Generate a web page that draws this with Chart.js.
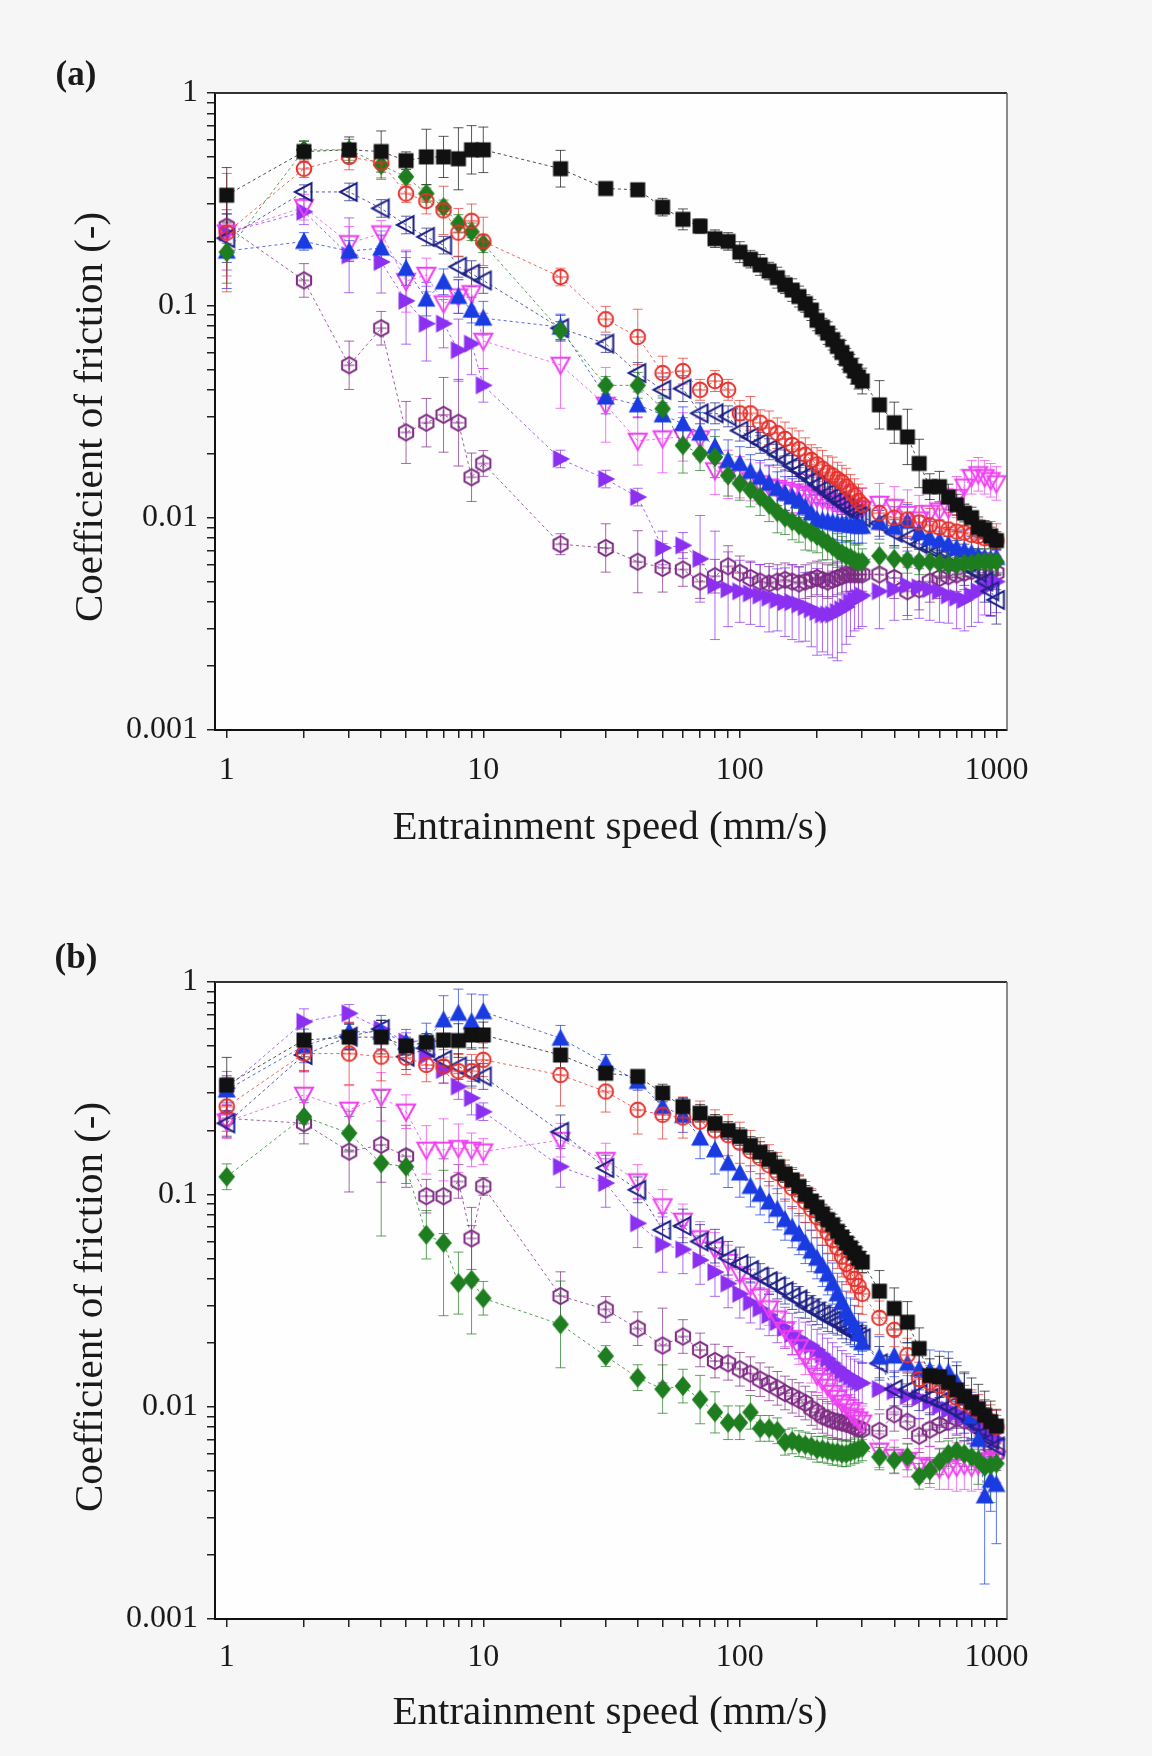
<!DOCTYPE html>
<html><head><meta charset="utf-8">
<script src="https://cdn.jsdelivr.net/npm/chart.js@4.4.1/dist/chart.umd.min.js"></script>
<style>
html,body{margin:0;padding:0;background:#f6f6f6;}
#wrap{position:relative;width:1152px;height:1756px;overflow:hidden;}
.pan{position:absolute;left:0;width:1152px;height:878px;}
</style></head><body>
<div id="wrap">
<div class="pan" style="top:0"><canvas id="ca" width="1152" height="878"></canvas></div>
<div class="pan" style="top:878px"><canvas id="cb" width="1152" height="878"></canvas></div>
</div>
<script>
// ---------- DATA ----------
const speeds = [1,2,3,4,5,6,7,8,9,10,
20,30,40,50,60,70,80,90,100,
110,120,130,140,150,160,170,180,190,200,210,220,230,240,250,260,270,280,290,300,
350,400,450,500,550,600,650,700,750,800,850,900,950,1000];

const xTickVals = [1,2,3,4,5,6,7,8,9,10,20,30,40,50,60,70,80,90,100,200,300,400,500,600,700,800,900,1000];
const xTickLabels = ['1','10','100','1000'];
const yTickVals = [0.001,0.002,0.003,0.004,0.005,0.006,0.007,0.008,0.009,0.01,0.02,0.03,0.04,0.05,0.06,0.07,0.08,0.09,0.1,0.2,0.3,0.4,0.5,0.6,0.7,0.8,0.9,1];
const yTickLabels = ['0.001','0.01','0.1','1'];

// panel (a)
const a_black = [0.33,0.53,0.54,0.53,0.48,0.50,0.50,0.49,0.54,0.54,
0.44,0.355,0.35,0.29,0.254,0.236,0.206,0.2,0.178,
0.165,0.155,0.145,0.135,0.125,0.118,0.11,0.102,0.095,0.085,0.079,0.074,0.069,0.064,0.06,0.056,0.052,0.049,0.046,0.044,
0.034,0.028,0.024,0.018,0.014,0.014,0.0125,0.0115,0.0105,0.01,0.009,0.0088,0.0082,0.0078];
const a_red = [0.22,0.44,0.5,0.47,0.336,0.31,0.28,0.22,0.25,0.2,
0.136,0.086,0.071,0.048,0.049,0.040,0.044,0.040,0.031,
0.031,0.028,0.0265,0.025,0.0235,0.022,0.021,0.0198,0.0187,0.0178,0.017,0.0163,0.0158,0.0152,0.0147,0.014,0.0133,0.0127,0.012,0.0115,
0.0105,0.01,0.0098,0.0095,0.0092,0.009,0.0088,0.0086,0.0085,0.0083,0.0082,0.008,0.008,0.0078];
const a_green = [0.178,0.54,0.54,0.458,0.403,0.336,0.29,0.243,0.222,0.195,
0.076,0.042,0.042,0.0326,0.0219,0.02,0.0193,0.0158,0.0145,
0.0135,0.0125,0.0115,0.0106,0.01,0.0096,0.0092,0.0088,0.0085,0.0082,0.0079,0.0076,0.0073,0.007,0.0068,0.0066,0.0065,0.0063,0.0062,0.0062,
0.0066,0.0064,0.0063,0.0062,0.0062,0.0061,0.006,0.006,0.0061,0.0061,0.0062,0.0062,0.0062,0.0062];
const a_blue = [0.18,0.2,0.18,0.186,0.149,0.107,0.129,0.11,0.095,0.087,
0.079,0.037,0.034,0.0305,0.0277,0.025,0.0216,0.0186,0.018,
0.0165,0.0155,0.0145,0.0137,0.013,0.0125,0.012,0.0112,0.0105,0.0098,0.0097,0.0096,0.0095,0.0094,0.0093,0.0093,0.0092,0.0092,0.0091,0.0091,
0.0095,0.009,0.0096,0.0085,0.008,0.0078,0.0075,0.0072,0.007,0.0068,0.0066,0.0065,0.0064,0.0065];
const a_navy = [0.207,0.342,0.342,0.286,0.239,0.21,0.192,0.152,0.141,0.131,
0.078,0.066,0.048,0.04,0.0405,0.031,0.031,0.03,0.0257,
0.024,0.0225,0.021,0.0198,0.0186,0.0175,0.0166,0.0157,0.015,0.0143,0.0136,0.013,0.0125,0.012,0.0116,0.0112,0.0108,0.0105,0.0102,0.01,
0.0094,0.0085,0.008,0.0075,0.0072,0.007,0.0068,0.0065,0.006,0.0057,0.0055,0.005,0.0045,0.0041];
const a_magenta = [0.22,0.29,0.196,0.218,0.13,0.139,0.102,0.11,0.114,0.068,
0.0524,0.034,0.023,0.0236,0.024,0.0236,0.0167,0.016,0.0155,
0.015,0.0145,0.014,0.0138,0.0135,0.0132,0.013,0.0128,0.0126,0.0124,0.0122,0.012,0.0118,0.0116,0.0115,0.0113,0.0112,0.0111,0.011,0.011,
0.0116,0.0112,0.0104,0.0098,0.0105,0.0108,0.011,0.0125,0.014,0.0155,0.016,0.0155,0.015,0.0145];
const a_violet = [0.22,0.276,0.172,0.16,0.105,0.082,0.082,0.0615,0.066,0.042,
0.0189,0.0152,0.0125,0.0072,0.0074,0.0064,0.0048,0.0046,0.0045,
0.0044,0.0043,0.0042,0.0041,0.004,0.004,0.0039,0.0038,0.0037,0.0036,0.0035,0.0035,0.0035,0.0036,0.0037,0.0038,0.004,0.0041,0.0042,0.0043,
0.0045,0.0046,0.0048,0.0047,0.0046,0.0045,0.0043,0.0042,0.0041,0.0043,0.0045,0.0047,0.0048,0.005];
const a_purple = [0.235,0.131,0.0522,0.078,0.0252,0.028,0.0305,0.028,0.0155,0.018,
0.0075,0.0072,0.0062,0.0058,0.0057,0.005,0.0053,0.0059,0.0055,
0.0052,0.005,0.0049,0.005,0.0051,0.005,0.0049,0.005,0.0051,0.0052,0.0051,0.005,0.0051,0.0052,0.0053,0.0054,0.0054,0.0054,0.0054,0.0054,
0.0054,0.0052,0.0045,0.0046,0.005,0.0052,0.0053,0.0054,0.0055,0.0056,0.0057,0.0057,0.0056,0.0055];

// panel (a) error bars (multiplicative half-width)
const aErr_black = [1.35,1.12,1.15,1.25,1.1,1.35,1.25,1.4,1.3,1.28,
1.22,1.05,1.06,1.1,1.12,1.08,1.1,1.1,1.12,
1.1,1.12,1.1,1.12,1.1,1.13,1.12,1.1,1.12,1.12,1.1,1.13,1.12,1.12,1.14,1.12,1.13,1.15,1.14,1.15,
1.3,1.25,1.35,1.3,1.15,1.18,1.15,1.12,1.1,1.12,1.12,1.1,1.1,1.1];
const aErr_red = [1.9,1.1,1.15,1.2,1.1,1.15,1.3,1.3,1.2,1.3,
1.1,1.15,1.35,1.2,1.15,1.12,1.12,1.12,1.15,
1.2,1.15,1.2,1.18,1.2,1.2,1.22,1.2,1.18,1.2,1.22,1.2,1.22,1.2,1.2,1.22,1.2,1.2,1.2,1.2,
1.2,1.22,1.2,1.2,1.2,1.22,1.2,1.2,1.2,1.22,1.2,1.2,1.2,1.2];
const aErr_green = [1.4,1.1,1.12,1.15,1.12,1.1,1.08,1.1,1.1,1.1,
1.1,1.1,1.15,1.15,1.35,1.2,1.25,1.25,1.2,
1.2,1.22,1.2,1.25,1.2,1.22,1.2,1.25,1.22,1.2,1.25,1.2,1.22,1.2,1.2,1.18,1.2,1.18,1.2,1.15,
1.15,1.15,1.15,1.15,1.15,1.15,1.15,1.15,1.15,1.15,1.15,1.15,1.15,1.15];
const aErr_blue = [1.5,1.1,1.12,1.15,1.2,1.2,1.15,1.2,1.15,1.2,
1.15,1.2,1.15,1.2,1.2,1.25,1.2,1.25,1.2,
1.2,1.2,1.22,1.2,1.2,1.22,1.2,1.2,1.22,1.2,1.2,1.22,1.2,1.2,1.22,1.2,1.2,1.22,1.2,1.2,
1.2,1.25,1.2,1.2,1.2,1.25,1.2,1.2,1.25,1.2,1.2,1.25,1.2,1.2];
const aErr_navy = [1.3,1.08,1.1,1.1,1.1,1.1,1.1,1.12,1.15,1.15,
1.15,1.1,1.12,1.15,1.15,1.12,1.12,1.12,1.12,
1.12,1.12,1.12,1.12,1.12,1.12,1.12,1.12,1.12,1.12,1.12,1.12,1.12,1.12,1.12,1.12,1.12,1.12,1.12,1.12,
1.15,1.15,1.2,1.2,1.2,1.2,1.2,1.2,1.25,1.25,1.25,1.25,1.3,1.3];
const aErr_magenta = [1.6,1.15,1.2,1.15,1.4,1.2,1.2,1.2,1.3,1.35,
1.6,1.5,1.3,1.45,1.3,1.25,1.3,1.3,1.25,
1.25,1.25,1.25,1.25,1.25,1.25,1.25,1.25,1.25,1.25,1.25,1.25,1.25,1.25,1.25,1.25,1.25,1.25,1.25,1.25,
1.25,1.25,1.3,1.3,1.25,1.25,1.25,1.25,1.2,1.2,1.2,1.2,1.2,1.2];
const aErr_violet = [1.5,1.15,1.5,1.4,1.6,1.5,1.3,1.4,1.4,1.2,
1.1,1.1,1.1,1.2,1.15,1.6,1.8,1.5,1.4,
1.4,1.4,1.45,1.4,1.45,1.5,1.5,1.45,1.5,1.6,1.5,1.55,1.6,1.7,1.6,1.5,1.45,1.4,1.4,1.4,
1.5,1.4,1.45,1.4,1.4,1.4,1.35,1.4,1.4,1.4,1.4,1.35,1.4,1.4];
const aErr_purple = [1.2,1.2,1.3,1.2,1.4,1.3,1.5,1.6,1.3,1.15,
1.12,1.3,1.4,1.3,1.2,1.2,1.2,1.25,1.2,
1.2,1.2,1.2,1.2,1.2,1.2,1.2,1.2,1.2,1.2,1.2,1.2,1.2,1.2,1.2,1.2,1.2,1.2,1.2,1.2,
1.2,1.25,1.3,1.25,1.25,1.25,1.2,1.2,1.2,1.25,1.25,1.2,1.2,1.2];

// panel (b)
const b_black = [0.327,0.533,0.55,0.55,0.5,0.52,0.533,0.53,0.563,0.563,
0.453,0.372,0.359,0.3,0.259,0.241,0.216,0.2,0.187,
0.17,0.158,0.146,0.135,0.125,0.117,0.109,0.1,0.093,0.087,0.081,0.076,0.072,0.067,0.063,0.059,0.056,0.053,0.05,0.048,
0.035,0.029,0.025,0.0188,0.014,0.0138,0.013,0.012,0.0112,0.0105,0.0098,0.0091,0.0085,0.0081];
const b_red = [0.259,0.46,0.46,0.445,0.44,0.407,0.4,0.38,0.38,0.43,
0.365,0.305,0.25,0.237,0.23,0.22,0.2,0.19,0.175,
0.16,0.148,0.137,0.126,0.116,0.107,0.099,0.092,0.085,0.078,0.072,0.066,0.061,0.056,0.051,0.047,0.043,0.04,0.037,0.034,
0.0262,0.023,0.0175,0.0135,0.013,0.0125,0.012,0.011,0.0105,0.01,0.0095,0.009,0.0085,0.008];
const b_green = [0.121,0.232,0.194,0.14,0.135,0.0645,0.059,0.0382,0.0396,0.0324,
0.0244,0.0173,0.0137,0.0121,0.0125,0.0108,0.0094,0.0084,0.0084,
0.0094,0.0079,0.0079,0.0077,0.0068,0.0069,0.0067,0.0066,0.0065,0.0063,0.0063,0.0062,0.0061,0.0061,0.006,0.006,0.0061,0.0062,0.0063,0.0064,
0.0058,0.0056,0.0058,0.0047,0.005,0.0055,0.006,0.0062,0.006,0.0058,0.0056,0.0052,0.0053,0.0054];
const b_blue = [0.31,0.5,0.584,0.58,0.52,0.533,0.663,0.712,0.65,0.725,
0.543,0.414,0.34,0.259,0.235,0.184,0.162,0.14,0.126,
0.109,0.1,0.092,0.085,0.076,0.07,0.065,0.059,0.054,0.05,0.046,0.042,0.038,0.034,0.031,0.028,0.026,0.024,0.022,0.02,
0.0171,0.0173,0.016,0.015,0.0148,0.0146,0.0145,0.013,0.011,0.009,0.007,0.0038,0.0045,0.0043];
const b_navy = [0.216,0.453,0.553,0.6,0.445,0.488,0.43,0.4,0.372,0.359,
0.197,0.133,0.105,0.068,0.071,0.06,0.057,0.05,0.047,
0.044,0.041,0.039,0.037,0.035,0.033,0.032,0.03,0.029,0.028,0.027,0.026,0.0255,0.025,0.024,0.023,0.0225,0.022,0.0215,0.021,
0.016,0.0121,0.012,0.0115,0.011,0.0105,0.01,0.0095,0.009,0.0085,0.008,0.0075,0.007,0.0065];
const b_magenta = [0.22,0.294,0.25,0.288,0.245,0.162,0.162,0.165,0.162,0.159,
0.18,0.145,0.115,0.0877,0.075,0.062,0.055,0.048,0.042,
0.037,0.033,0.029,0.026,0.023,0.021,0.019,0.017,0.0155,0.014,0.0132,0.0124,0.0116,0.011,0.0104,0.01,0.0095,0.009,0.0087,0.0084,
0.0062,0.0058,0.0056,0.0053,0.0052,0.0051,0.0051,0.0052,0.0053,0.0052,0.0053,0.0055,0.0056,0.0057];
const b_violet = [0.316,0.65,0.712,0.6,0.524,0.45,0.385,0.322,0.284,0.245,
0.135,0.113,0.073,0.058,0.055,0.049,0.043,0.038,0.034,
0.031,0.029,0.027,0.025,0.0235,0.022,0.021,0.02,0.0194,0.0185,0.0176,0.0168,0.016,0.0153,0.0147,0.0142,0.0138,0.0134,0.0131,0.0129,
0.0121,0.0118,0.0112,0.011,0.0105,0.01,0.0097,0.0093,0.009,0.0087,0.0082,0.0078,0.0074,0.007];
const b_purple = [0.228,0.216,0.159,0.171,0.151,0.098,0.098,0.115,0.062,0.109,
0.0332,0.0287,0.0233,0.0194,0.0214,0.0185,0.0164,0.016,0.015,
0.0143,0.0134,0.0128,0.0122,0.0116,0.0112,0.0108,0.0104,0.0098,0.0094,0.009,0.0088,0.0086,0.0085,0.0084,0.0083,0.0082,0.008,0.0079,0.0078,
0.0077,0.0092,0.0085,0.0073,0.0078,0.0082,0.0085,0.0088,0.0086,0.0084,0.008,0.0072,0.0065,0.006];

const bErr_black = [1.35,1.2,1.15,1.2,1.1,1.1,1.25,1.2,1.15,1.15,
1.15,1.05,1.05,1.1,1.1,1.1,1.1,1.1,1.1,
1.1,1.12,1.1,1.12,1.1,1.12,1.12,1.1,1.12,1.12,1.1,1.12,1.12,1.12,1.12,1.12,1.12,1.12,1.12,1.12,
1.25,1.25,1.25,1.25,1.2,1.25,1.3,1.3,1.3,1.3,1.3,1.3,1.25,1.2];
const bErr_red = [1.4,1.2,1.4,1.3,1.2,1.2,1.2,1.2,1.2,1.2,
1.4,1.25,1.3,1.3,1.25,1.25,1.25,1.25,1.25,
1.25,1.25,1.25,1.25,1.25,1.25,1.25,1.25,1.25,1.25,1.25,1.25,1.25,1.25,1.25,1.25,1.25,1.25,1.25,1.25,
1.2,1.2,1.2,1.2,1.2,1.2,1.2,1.2,1.2,1.2,1.2,1.2,1.2,1.2];
const bErr_green = [1.15,1.2,1.2,2.2,1.2,1.3,2.2,1.4,1.8,1.2,
1.6,1.12,1.15,1.3,1.2,1.3,1.25,1.2,1.2,
1.2,1.15,1.15,1.15,1.15,1.15,1.15,1.15,1.15,1.15,1.15,1.15,1.15,1.15,1.15,1.15,1.15,1.15,1.15,1.15,
1.15,1.15,1.15,1.15,1.15,1.15,1.15,1.15,1.15,1.15,1.3,1.4,1.5,1.3];
const bErr_blue = [1.15,1.2,1.2,1.2,1.15,1.2,1.3,1.3,1.35,1.2,
1.15,1.1,1.1,1.15,1.2,1.25,1.3,1.3,1.3,
1.25,1.25,1.25,1.25,1.25,1.25,1.25,1.25,1.25,1.25,1.25,1.25,1.25,1.25,1.25,1.25,1.25,1.25,1.25,1.25,
1.25,1.25,1.25,1.25,1.25,1.25,1.25,1.25,1.3,1.3,1.3,2.6,1.4,1.9];
const bErr_navy = [1.15,1.2,1.15,1.1,1.15,1.1,1.15,1.15,1.15,1.15,
1.2,1.15,1.15,1.2,1.2,1.2,1.2,1.2,1.2,
1.15,1.15,1.15,1.15,1.15,1.15,1.15,1.15,1.15,1.15,1.15,1.15,1.15,1.15,1.15,1.15,1.15,1.15,1.15,1.15,
1.2,1.2,1.2,1.2,1.2,1.2,1.2,1.2,1.2,1.2,1.2,1.2,1.2,1.2];
const bErr_magenta = [1.2,1.3,1.3,1.3,1.2,1.3,1.4,1.3,1.2,1.15,
1.2,1.2,1.2,1.2,1.2,1.2,1.2,1.2,1.2,
1.2,1.2,1.2,1.2,1.2,1.2,1.2,1.2,1.2,1.2,1.2,1.2,1.2,1.2,1.2,1.2,1.2,1.2,1.2,1.2,
1.2,1.2,1.2,1.2,1.25,1.25,1.25,1.3,1.3,1.3,1.3,1.4,1.3,1.3];
const bErr_violet = [1.2,1.15,1.1,1.1,1.1,1.15,1.15,1.15,1.2,1.1,
1.25,1.3,1.3,1.35,1.3,1.3,1.3,1.3,1.3,
1.25,1.25,1.25,1.25,1.25,1.25,1.25,1.25,1.25,1.25,1.25,1.25,1.25,1.25,1.25,1.25,1.25,1.25,1.25,1.25,
1.25,1.25,1.25,1.25,1.25,1.25,1.25,1.25,1.3,1.3,1.3,1.3,1.3,1.3];
const bErr_purple = [1.15,1.25,1.55,1.5,1.4,1.2,1.5,1.2,1.4,1.1,
1.3,1.15,1.2,1.5,1.2,1.2,1.2,1.2,1.2,
1.2,1.2,1.2,1.2,1.2,1.2,1.2,1.2,1.2,1.2,1.2,1.2,1.2,1.2,1.2,1.2,1.2,1.2,1.2,1.2,
1.2,1.2,1.2,1.2,1.2,1.2,1.2,1.2,1.2,1.2,1.2,1.2,1.2,1.2];

// ---------- STYLE ----------
const SERIF = "'Liberation Serif','Times New Roman',serif";
const seriesStyle = [
  {name:'black',  color:'#111111', shape:'square'},
  {name:'red',    color:'#e5302a', shape:'circle'},
  {name:'green',  color:'#1e7d1e', shape:'diamond'},
  {name:'blue',   color:'#1a3be0', shape:'up'},
  {name:'navy',   color:'#1d2185', shape:'left'},
  {name:'magenta',color:'#ee3ff0', shape:'down'},
  {name:'violet', color:'#8b2ff0', shape:'right'},
  {name:'purple', color:'#7e2b84', shape:'hex'}
];

function hexA(h,a){const n=parseInt(h.slice(1),16);return `rgba(${n>>16&255},${n>>8&255},${n&255},${a})`;}

function marker(kind,color){
  const s=24,c=document.createElement('canvas');c.width=s;c.height=s;
  const g=c.getContext('2d');g.translate(s/2,s/2);g.lineWidth=2;g.strokeStyle=color;g.fillStyle=color;
  const poly=(pts,fill)=>{g.beginPath();pts.forEach((p,i)=>i?g.lineTo(p[0],p[1]):g.moveTo(p[0],p[1]));g.closePath();fill?g.fill():g.stroke();};
  const plus=r=>{g.lineWidth=1.2;g.beginPath();g.moveTo(-r,0);g.lineTo(r,0);g.moveTo(0,-r);g.lineTo(0,r);g.stroke();};
  switch(kind){
    case 'square':g.fillRect(-7.5,-7.5,15,15);break;
    case 'circle':g.beginPath();g.arc(0,0,7.3,0,2*Math.PI);g.stroke();plus(6);break;
    case 'diamond':poly([[0,-10],[8.3,0],[0,10],[-8.3,0]],true);break;
    case 'up':poly([[0,-9.5],[9,7.5],[-9,7.5]],true);break;
    case 'left':poly([[-9,0],[7.5,-8.8],[7.5,8.8]],false);break;
    case 'down':poly([[0,9],[-9,-7.3],[9,-7.3]],false);break;
    case 'right':poly([[9.5,0],[-7.5,-9],[-7.5,9]],true);break;
    case 'hex':{const p=[];for(let k=0;k<6;k++){const a=-Math.PI/2+k*Math.PI/3;p.push([8.2*Math.cos(a),8.2*Math.sin(a)]);}poly(p,false);plus(5.5);}break;
  }
  return c;
}

const errPlugin={id:'errbars',beforeDatasetsDraw(chart){
  const ctx=chart.ctx,ys=chart.scales.y,a=chart.chartArea;
  ctx.save();ctx.beginPath();ctx.rect(a.left,a.top,a.right-a.left,a.bottom-a.top);ctx.clip();
  for(let i=chart.data.datasets.length-1;i>=0;i--){
    const ds=chart.data.datasets[i],meta=chart.getDatasetMeta(i);
    ctx.strokeStyle=ds.errColor;ctx.lineWidth=1;
    meta.data.forEach((pt,j)=>{
      const v=ds.data[j].y,f=ds.errs[j];if(v==null||!f)return;
      const y1=ys.getPixelForValue(v*f),y2=ys.getPixelForValue(v/f),x=pt.x;
      ctx.beginPath();ctx.moveTo(x,y1);ctx.lineTo(x,y2);
      ctx.moveTo(x-5,y1);ctx.lineTo(x+5,y1);ctx.moveTo(x-5,y2);ctx.lineTo(x+5,y2);ctx.stroke();
    });
  }
  ctx.restore();
}};

const framePlugin={id:'frame',
  beforeDraw(chart){const a=chart.chartArea,ctx=chart.ctx;ctx.save();ctx.fillStyle='#fefefe';ctx.fillRect(a.left,a.top,a.right-a.left,a.bottom-a.top);ctx.restore();},
  afterDraw(chart){
    const a=chart.chartArea,ctx=chart.ctx,o=chart.options.plugins.frame;
    ctx.save();
    ctx.strokeStyle='#333';ctx.lineWidth=2;ctx.beginPath();ctx.moveTo(a.left,a.top);ctx.lineTo(a.right,a.top);ctx.stroke();
    ctx.strokeStyle='#666';ctx.lineWidth=1.5;ctx.beginPath();ctx.moveTo(a.right,a.top);ctx.lineTo(a.right,a.bottom);ctx.stroke();
    ctx.fillStyle='#1a1a1a';ctx.textAlign='center';ctx.textBaseline='middle';
    ctx.font='41px '+SERIF;ctx.fillText(o.xTitle,610,o.xTitleY);
    ctx.save();ctx.translate(91,o.yTitleY);ctx.rotate(-Math.PI/2);ctx.fillText(o.yTitle,0,0);ctx.restore();
    ctx.font='bold 35px '+SERIF;ctx.fillText(o.letter,76,o.letterY);
    ctx.restore();
  }};

function isMajor(v){const l=Math.log10(v);return Math.abs(l-Math.round(l))<1e-6;}

function makeChart(id,vals,errs,topPad,xAxisH,xPad,letter,letterY,xTitleY,yTitleY){
  const datasets=seriesStyle.map((s,i)=>({
    label:s.name,
    data:speeds.map((x,j)=>({x:x,y:vals[i][j]})),
    showLine:true,borderColor:hexA(s.color,0.75),borderWidth:1,borderDash:[3,3],
    pointStyle:marker(s.shape,s.color),pointRadius:9,pointHoverRadius:9,
    backgroundColor:s.color,errs:errs[i],errColor:hexA(s.color,0.7)
  }));
  return new Chart(document.getElementById(id),{
    type:'scatter',
    data:{datasets},
    options:{
      responsive:false,animation:false,events:[],
      layout:{padding:{left:0,right:145,top:topPad,bottom:0}},
      plugins:{legend:{display:false},tooltip:{enabled:false},
        frame:{letter,letterY,xTitleY,yTitleY,xTitle:'Entrainment speed (mm/s)',yTitle:'Coefficient of friction (-)'}},
      scales:{
        x:{type:'logarithmic',position:'bottom',min:0.9,max:1100,
          afterBuildTicks:s=>{s.ticks=xTickVals.map(v=>({value:v}));},
          afterFit:s=>{s.height=xAxisH;},
          ticks:{autoSkip:false,maxRotation:0,padding:xPad,color:'#1a1a1a',font:{family:SERIF,size:32},
            callback:v=>isMajor(v)?xTickLabels[Math.round(Math.log10(v))]:''},
          grid:{drawOnChartArea:false,drawTicks:true,tickLength:8,color:'#222',lineWidth:1.5},
          border:{display:true,color:'#111',width:2}},
        y:{type:'logarithmic',position:'left',min:0.001,max:1,
          afterBuildTicks:s=>{s.ticks=yTickVals.map(v=>({value:v}));},
          afterFit:s=>{s.width=215;},
          ticks:{autoSkip:false,padding:9,color:'#1a1a1a',font:{family:SERIF,size:32},
            callback:v=>isMajor(v)?yTickLabels[Math.round(Math.log10(v))+3]:''},
          grid:{drawOnChartArea:false,drawTicks:true,tickLength:8,color:'#222',lineWidth:1.5},
          border:{display:true,color:'#111',width:2}}
      }
    },
    plugins:[errPlugin,framePlugin]
  });
}

makeChart('ca',
  [a_black,a_red,a_green,a_blue,a_navy,a_magenta,a_violet,a_purple],
  [aErr_black,aErr_red,aErr_green,aErr_blue,aErr_navy,aErr_magenta,aErr_violet,aErr_purple],
  93,148,13,'(a)',76,828,417);
makeChart('cb',
  [b_black,b_red,b_green,b_blue,b_navy,b_magenta,b_violet,b_purple],
  [bErr_black,bErr_red,bErr_green,bErr_blue,bErr_navy,bErr_magenta,bErr_violet,bErr_purple],
  104,137,11,'(b)',81,835,429);
</script>
</body></html>
